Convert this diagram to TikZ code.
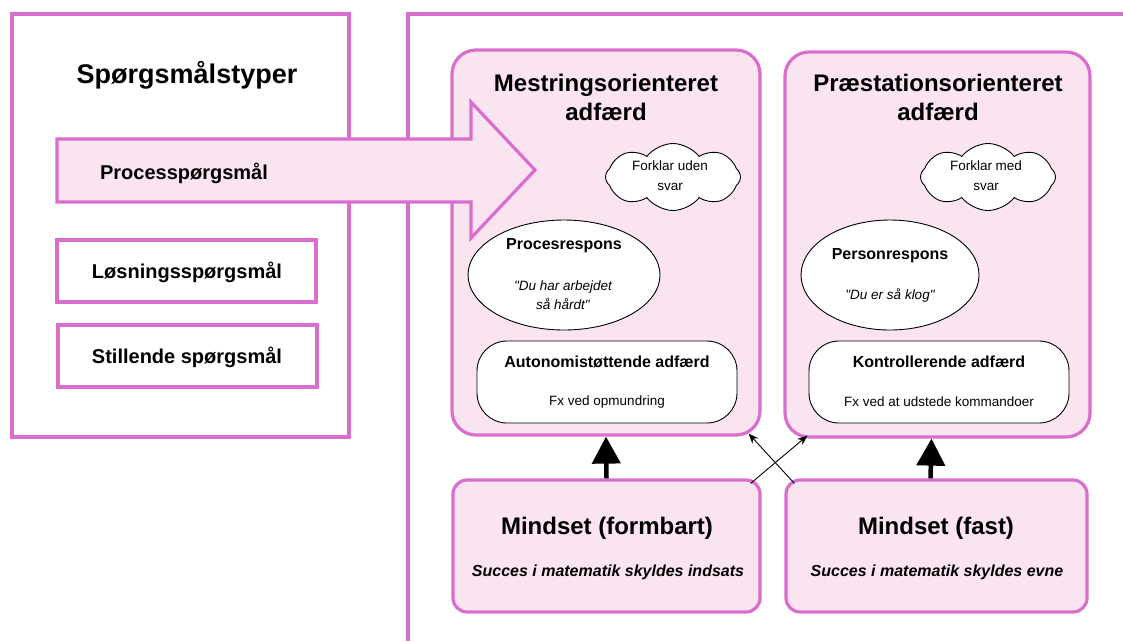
\documentclass[tikz,border=0pt]{standalone}
\usepackage{fontspec}
\setmainfont{Liberation Sans}
\usetikzlibrary{shapes.geometric,shapes.symbols,arrows.meta}

\definecolor{orchidline}{HTML}{D96ECC}
\definecolor{pinkfill}{HTML}{F9E4F0}

\tikzset{
  frame/.style={draw=orchidline, line width=3.2pt},
  plainbox/.style={frame, fill=white, rectangle, inner sep=0pt},
  pinkbox/.style={frame, fill=pinkfill, rectangle, inner sep=0pt},
  bubble/.style={draw=black, line width=0.9pt, fill=white, inner sep=0pt},
  puff/.style={bubble, cloud, cloud puffs=8, cloud puff arc=105, aspect=2,
      minimum width=135pt, minimum height=67pt},
  txt/.style={inner sep=0pt, align=center, text=black},
  bigarrow/.style={-{Triangle[width=28pt,length=27pt]}, line width=4.5pt, black},
  thinarrow/.style={-{Stealth[width=8pt,length=10pt]}, line width=0.9pt, black}
}

\begin{document}
\begin{tikzpicture}[x=1pt,y=-1pt]
\useasboundingbox (0,0) rectangle (1123,641);
\fill[white] (0,0) rectangle (1123,641);

% outer frames
\node[plainbox, minimum width=337pt, minimum height=423pt] (left) at (180.5,225.5) {};
\draw[frame] (1123,14) -- (408,14) -- (408,641);

% question types
\node[txt, font=\bfseries\fontsize{27}{32}\selectfont] (ttl) at (187,75) {Spørgsmålstyper};
\node[plainbox, minimum width=259pt, minimum height=62pt] (losn) at (186.5,271) {};
\node[txt, font=\bfseries\fontsize{20}{24}\selectfont] (losnt) at (187,272) {Løsningsspørgsmål};
\node[plainbox, minimum width=259pt, minimum height=62pt] (still) at (187.5,356) {};
\node[txt, font=\bfseries\fontsize{20}{24}\selectfont] (stillt) at (187,357) {Stillende spørgsmål};

% behaviour groups
\node[pinkbox, rounded corners=24pt, minimum width=308pt, minimum height=385pt] (mb) at (606,242.5) {};
\node[pinkbox, rounded corners=24pt, minimum width=305pt, minimum height=385pt] (pb) at (937.5,244.5) {};

\node[txt, font=\bfseries\fontsize{24}{29}\selectfont] (mbt) at (606,97.5) {Mestringsorienteret\\adfærd};
\node[txt, font=\bfseries\fontsize{24}{29}\selectfont] (pbt) at (938,97.5) {Præstationsorienteret\\adfærd};

% clouds
\node[puff] (c1) at (673,177) {};
\node[txt, font=\fontsize{13.5}{20}\selectfont] (c1t) at (670,176) {Forklar uden\\svar};
\node[puff] (c2) at (988,177) {};
\node[txt, font=\fontsize{13.5}{20}\selectfont] (c2t) at (986,176) {Forklar med\\svar};

% responses
\node[bubble, ellipse, minimum width=192pt, minimum height=110pt] (pr) at (564,275) {};
\node[txt, font=\bfseries\fontsize{16}{19}\selectfont] (prt) at (564,246) {Procesrespons};
\node[txt, font=\itshape\fontsize{13.5}{19}\selectfont] (prq) at (563,295.5) {\textquotedbl Du har arbejdet\\så hårdt\textquotedbl};
\node[bubble, ellipse, minimum width=178pt, minimum height=110pt] (per) at (890,275) {};
\node[txt, font=\bfseries\fontsize{16}{19}\selectfont] (pert) at (890,256) {Personrespons};
\node[txt, font=\itshape\fontsize{13.5}{19}\selectfont] (perq) at (890,295) {\textquotedbl Du er så klog\textquotedbl};

% conduct
\node[bubble, rectangle, rounded corners=30pt, minimum width=260pt, minimum height=82pt] (aut) at (607,382) {};
\node[txt, font=\bfseries\fontsize{16}{19}\selectfont] (autt) at (607,362) {Autonomistøttende adfærd};
\node[txt, font=\fontsize{13.5}{16}\selectfont] (auts) at (607,402) {Fx ved opmundring};
\node[bubble, rectangle, rounded corners=30pt, minimum width=260pt, minimum height=82pt] (kon) at (939,382) {};
\node[txt, font=\bfseries\fontsize{16}{19}\selectfont] (kont) at (939,362) {Kontrollerende adfærd};
\node[txt, font=\fontsize{13.5}{16}\selectfont] (kons) at (939,402) {Fx ved at udstede kommandoer};

% mindsets
\node[pinkbox, rounded corners=14pt, minimum width=307pt, minimum height=132pt] (mf) at (606.5,546) {};
\node[txt, font=\bfseries\fontsize{24}{29}\selectfont] (mft) at (607,528) {Mindset (formbart)};
\node[txt, font=\bfseries\itshape\fontsize{16}{19}\selectfont] (mfs) at (608,572) {Succes i matematik skyldes indsats};
\node[pinkbox, rounded corners=14pt, minimum width=301pt, minimum height=132pt] (mfa) at (936.5,546) {};
\node[txt, font=\bfseries\fontsize{24}{29}\selectfont] (mfat) at (936,528) {Mindset (fast)};
\node[txt, font=\bfseries\itshape\fontsize{16}{19}\selectfont] (mfas) at (937,572) {Succes i matematik skyldes evne};

% influence arrows
\draw[bigarrow] (mf.north) -- (mb.south);
\draw[bigarrow] ([xshift=-6pt]mfa.north) -- ([xshift=-6pt]pb.south);
\draw[thinarrow] ([xshift=-11pt,yshift=-5pt]mf.north east) -- ([xshift=24pt,yshift=3pt]pb.south west);
\draw[thinarrow] ([xshift=10pt,yshift=-5pt]mfa.north west) -- ([xshift=-13pt,yshift=3pt]mb.south east);

% process question arrow
\draw[frame, fill=pinkfill, line join=miter]
  (57,139) -- (471,139) -- (471,102) -- (535,170) -- (471,238) -- (471,202) -- (57,202) -- cycle;
\node[txt, font=\bfseries\fontsize{20}{24}\selectfont] (proc) at (184,173) {Processpørgsmål};

\end{tikzpicture}
\end{document}
